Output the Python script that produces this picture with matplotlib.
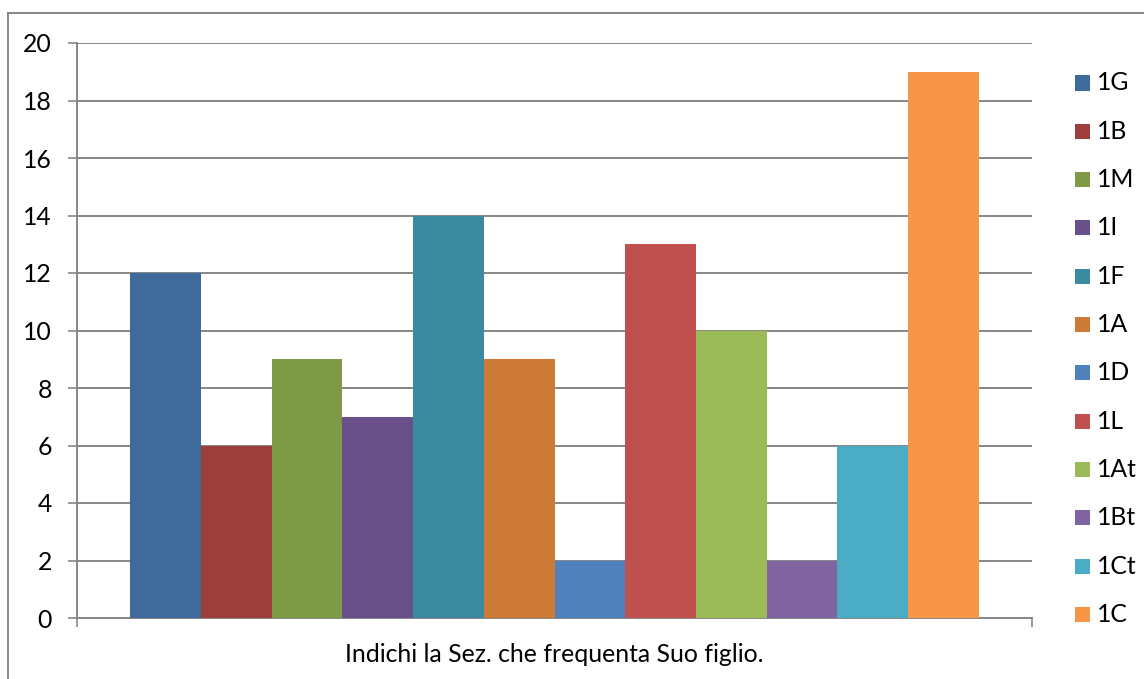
import matplotlib
matplotlib.use("Agg")
import matplotlib.pyplot as plt
from matplotlib.lines import Line2D
from matplotlib.patches import Rectangle

series = ["1G", "1B", "1M", "1I", "1F", "1A", "1D", "1L", "1At", "1Bt", "1Ct", "1C"]
values = [12, 6, 9, 7, 14, 9, 2, 13, 10, 2, 6, 19]
colors = ["#3F6A9C", "#9E3E3C", "#7E9A47", "#6A5088", "#3A8AA0", "#CC7A36",
          "#4F81BD", "#C0504D", "#9BBB59", "#8064A2", "#4BACC6", "#F79646"]
category_label = "Indichi la Sez. che frequenta Suo figlio."
yticks = [0, 2, 4, 6, 8, 10, 12, 14, 16, 18, 20]

plt.rcParams['font.family'] = ['Lato', 'DejaVu Sans']
FS = 17.8
GRID = '#868686'

W, H = 1144, 679
fig = plt.figure(figsize=(W / 100, H / 100), dpi=100)
ax_l, ax_r, ax_t, ax_b = 77, 1032, 43, 618
ax = fig.add_axes([ax_l / W, (H - ax_b) / H, (ax_r - ax_l) / W, (ax_b - ax_t) / H])

n = len(series)
span = float(ax_r - ax_l)
bar_w = (979 - 130) / span / n
start = (130 - ax_l) / span
for i, (s, v, c) in enumerate(zip(series, values, colors)):
    ax.bar(start + i * bar_w, v, width=bar_w, align='edge', color=c, zorder=3, label=s)

ax.set_xlim(0, 1)
ax.set_ylim(0, 20)
ax.set_yticks(yticks)
ax.set_yticklabels([str(t) for t in yticks], fontsize=FS)
ax.set_xticks([0, 1])
ax.set_xticklabels([])
ax.tick_params(axis='y', length=6.5, width=1.2, color=GRID, pad=11.5)
ax.tick_params(axis='x', length=6.5, width=1.2, color=GRID)
ax.grid(axis='y', color=GRID, linewidth=1.4, zorder=0)
for side in ['top', 'right']:
    ax.spines[side].set_visible(False)
for side in ['left', 'bottom']:
    ax.spines[side].set_color(GRID)
    ax.spines[side].set_linewidth(1.4)
ax.set_xlabel(category_label, fontsize=FS)
ax.xaxis.set_label_coords(0.5, (ax_b - 655) / (ax_b - ax_t))
ax.xaxis.label.set_va('center')

# legend (Excel style: small squares to the right of the plot area)
sq = 15
for i, (s, c) in enumerate(zip(series, colors)):
    yc = 83 + i * 48.3
    fig.add_artist(Rectangle((1075 / W, 1 - (yc + sq / 2) / H), sq / W, sq / H,
                             transform=fig.transFigure, facecolor=c, edgecolor='none'))
    fig.text(1097 / W, 1 - yc / H, s, fontsize=FS, va='center', ha='left')

# outer chart frame
fig.add_artist(Line2D([8 / W, 1], [1 - 13 / H, 1 - 13 / H], transform=fig.transFigure,
                      color=GRID, linewidth=1.4))
fig.add_artist(Line2D([8 / W, 8 / W], [1 - 13 / H, 0], transform=fig.transFigure,
                      color=GRID, linewidth=1.4))

fig.savefig("out.png", dpi=100)
